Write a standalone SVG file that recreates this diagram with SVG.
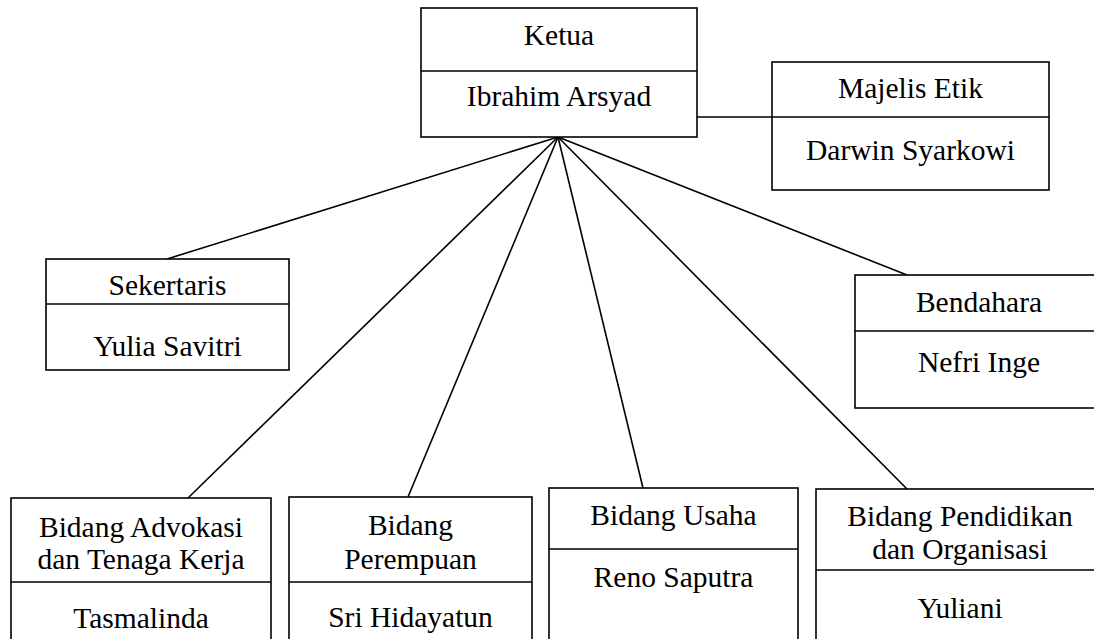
<svg xmlns="http://www.w3.org/2000/svg" width="1094" height="639" viewBox="0 0 1094 639">
<style>
.box{fill:#fff;stroke:#000;stroke-width:1.6}
.div{stroke:#000;stroke-width:1.6}
.con{stroke:#000;stroke-width:1.6;fill:none}
text{font-family:"Liberation Serif","Times New Roman",serif;font-size:29.5px;fill:#000;text-anchor:middle}
</style>
<rect width="1094" height="639" fill="#fff"/>
<g id="connectors">
<line class="con" x1="697" y1="117" x2="772" y2="117"/>
<line class="con" x1="558" y1="137" x2="167" y2="259"/>
<line class="con" x1="558" y1="137" x2="907" y2="275"/>
<line class="con" x1="558" y1="137" x2="188" y2="498"/>
<line class="con" x1="558" y1="137" x2="408" y2="497"/>
<line class="con" x1="558" y1="137" x2="643" y2="488"/>
<line class="con" x1="558" y1="137" x2="907" y2="489"/>
</g>
<g id="ketua">
<rect class="box" x="421" y="8" width="276" height="129"/>
<line class="div" x1="421" y1="71" x2="697" y2="71"/>
<text x="559" y="45">Ketua</text>
<text x="559" y="106">Ibrahim Arsyad</text>
</g>
<g id="majelis">
<rect class="box" x="772" y="62" width="277" height="128"/>
<line class="div" x1="772" y1="117" x2="1049" y2="117"/>
<text x="910.5" y="98">Majelis Etik</text>
<text x="910.5" y="160">Darwin Syarkowi</text>
</g>
<g id="sekertaris">
<rect class="box" x="46" y="259" width="243" height="111"/>
<line class="div" x1="46" y1="304" x2="289" y2="304"/>
<text x="167.5" y="295">Sekertaris</text>
<text x="167.5" y="356">Yulia Savitri</text>
</g>
<g id="bendahara">
<rect class="box" x="855" y="275" width="248" height="133"/>
<line class="div" x1="855" y1="331" x2="1103" y2="331"/>
<text x="979" y="312">Bendahara</text>
<text x="979" y="372">Nefri Inge</text>
</g>
<g id="advokasi">
<rect class="box" x="11" y="498" width="260" height="170"/>
<line class="div" x1="11" y1="582" x2="271" y2="582"/>
<text x="141" y="537">Bidang Advokasi</text>
<text x="141" y="569">dan Tenaga Kerja</text>
<text x="141" y="628">Tasmalinda</text>
</g>
<g id="perempuan">
<rect class="box" x="289" y="497" width="243" height="170"/>
<line class="div" x1="289" y1="582" x2="532" y2="582"/>
<text x="410.5" y="535">Bidang</text>
<text x="410.5" y="569">Perempuan</text>
<text x="410.5" y="627">Sri Hidayatun</text>
</g>
<g id="usaha">
<rect class="box" x="549" y="488" width="249" height="180"/>
<line class="div" x1="549" y1="549" x2="798" y2="549"/>
<text x="673.5" y="525">Bidang Usaha</text>
<text x="673.5" y="587">Reno Saputra</text>
</g>
<g id="pendidikan">
<rect class="box" x="816" y="489" width="288" height="180"/>
<line class="div" x1="816" y1="570" x2="1104" y2="570"/>
<text x="960" y="526">Bidang Pendidikan</text>
<text x="960" y="559">dan Organisasi</text>
<text x="960" y="618">Yuliani</text>
</g>
</svg>
